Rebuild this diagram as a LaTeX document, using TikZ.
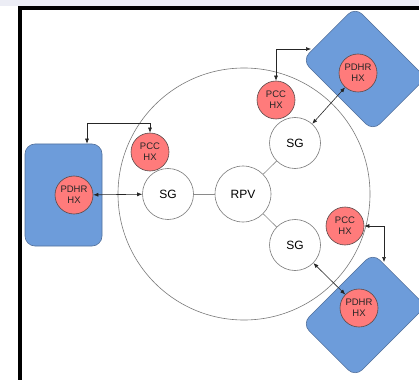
\documentclass[tikz,border=0pt]{standalone}
\usepackage{fontspec}
\setmainfont{Liberation Sans}
\usetikzlibrary{arrows.meta}
\definecolor{hxred}{HTML}{FF7B7B}
\definecolor{hxborder}{HTML}{5A4A4A}
\definecolor{boxblue}{HTML}{6D9CDA}
\definecolor{boxborder}{HTML}{52709C}
\definecolor{circgray}{HTML}{7A7A7A}
\definecolor{linkgray}{HTML}{8A8A8A}
\definecolor{stripcol}{HTML}{ECEDF5}
\begin{document}
\begin{tikzpicture}[x=1pt,y=-1pt,
  wcirc/.style={circle,draw=circgray,fill=white,line width=0.6pt,minimum size=51pt,inner sep=0pt,font=\fontsize{12}{14}\selectfont},
  hx/.style={circle,draw=hxborder,fill=hxred,line width=0.6pt,minimum size=38pt,inner sep=0pt,align=center,font=\fontsize{9.5}{11}\selectfont,text=black!85},
  hxbox/.style={rectangle,rounded corners=10pt,draw=boxborder,fill=boxblue,line width=0.6pt,inner sep=0pt},
  link/.style={draw=linkgray,line width=0.6pt},
  dbl/.style={draw=black!85,line width=0.6pt,{Latex[length=5pt,width=4pt]}-{Latex[length=5pt,width=4pt]}}]
\useasboundingbox (0,0) rectangle (419,379);
\clip (0,0) rectangle (419,379);
\fill[white] (0,0) rectangle (419,379);
\fill[stripcol] (0,0) rectangle (419,6);
\draw[line width=4pt] (20,395) -- (20,8) -- (440,8);
% vessel
\node[circle,draw=circgray,line width=0.6pt,minimum size=252pt,inner sep=0pt] (vessel) at (244,194) {};
% boxes
\node[hxbox,minimum width=77pt,minimum height=102pt] (boxL) at (63.5,195) {};
\node[hxbox,minimum width=75pt,minimum height=100pt,rotate=45] (boxT) at (364,69) {};
\node[hxbox,minimum width=75pt,minimum height=100pt,rotate=-45] (boxB) at (364,315) {};
% central nodes
\node[wcirc,minimum size=56pt] (rpv) at (243,194) {RPV};
\node[wcirc] (sgL) at (168,194) {SG};
\node[wcirc] (sgT) at (295,143) {SG};
\node[wcirc] (sgB) at (295,245) {SG};
% heat exchangers
\node[hx] (pccL) at (150,152) {PCC\\HX};
\node[hx] (pccT) at (276,100) {PCC\\HX};
\node[hx] (pccB) at (345,226) {PCC\\HX};
\node[hx] (pdhrL) at (74,195) {PDHR\\HX};
\node[hx] (pdhrT) at (358,73) {PDHR\\HX};
\node[hx] (pdhrB) at (359,308) {PDHR\\HX};
% links
\draw[link] (rpv) -- (sgL);
\draw[link] (rpv) -- (sgT);
\draw[link] (rpv) -- (sgB);
\draw[dbl] (pdhrL) -- (sgL);
\draw[dbl] (pdhrT) -- (sgT);
\draw[dbl] (pdhrB) -- (sgB);
\coordinate (kL) at (87,123);
\coordinate (kT) at (311,49);
\coordinate (kB) at (384,262);
\draw[dbl] (pccL.north) |- (kL) -- (kL |- boxL.north);
\draw[dbl] (pccT.north) |- (kT);
\draw[dbl] (pccB.east) -| (kB);
\end{tikzpicture}
\end{document}
